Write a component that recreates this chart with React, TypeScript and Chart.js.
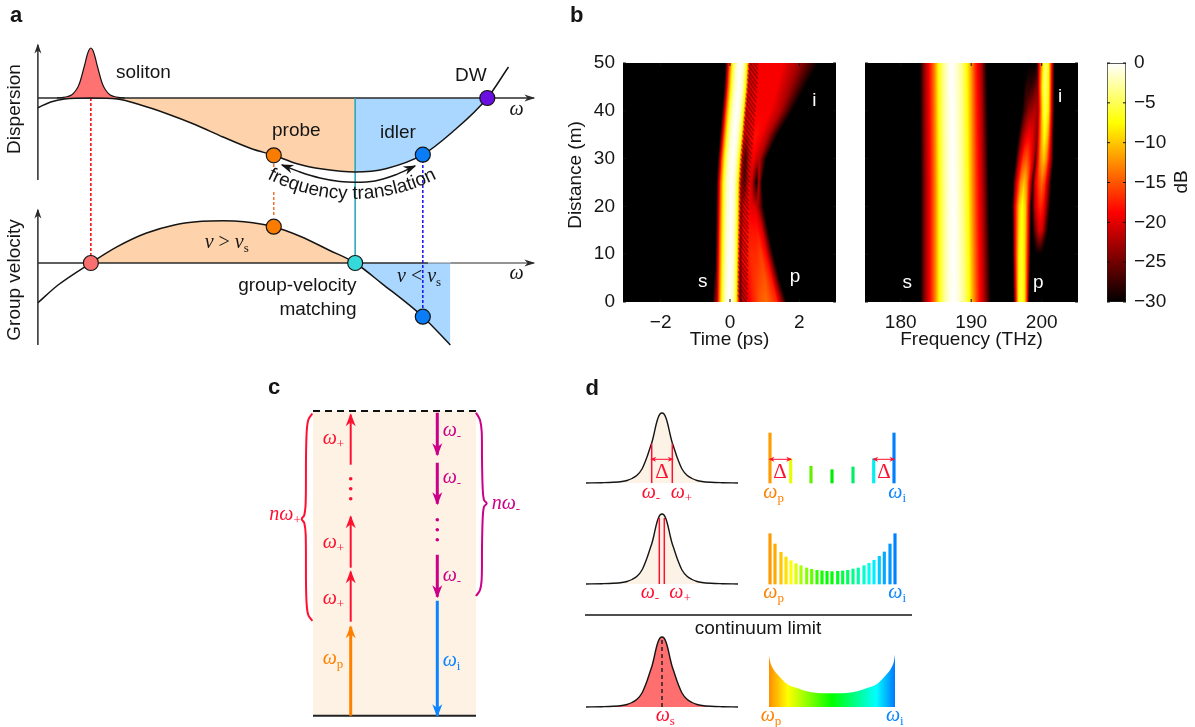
import { useEffect, useRef } from 'react';
import { Chart, registerables } from 'chart.js';
Chart.register(...registerables);

// ---------- panel a: dispersion and group velocity ----------
const omegaCurve = [0, 12, 25, 50, 75, 95, 122, 149, 175, 202, 223, 245, 269, 300, 329, 364, 392, 425, 445];
const dispersion = [-9.7, -4, -1, 0, -1, -6.3, -15.7, -26.7, -39, -50.7, -57.3, -65.7, -71, -74, -70.7, -56.7, -34, 0, 31];
const solitonOmega = [18, 24, 28, 32, 35, 38, 40, 42, 44, 46, 48, 50, 52, 54, 56, 58, 60, 62, 65, 68, 72, 76, 82];
const solitonHeight = [0.1, 0.6, 1.5, 3.3, 6.5, 11.5, 17, 24.5, 32.5, 41, 47.5, 50, 47.5, 41, 32.5, 24.5, 17, 11.5, 6.5, 3.3, 1.5, 0.6, 0.1];
const omegaGroup = [0, 19, 50, 75, 102, 129, 155, 175, 195, 223, 249, 275, 300, 325, 364, 390];
const groupVelocity = [-39.7, -22, 0, 16.3, 29.7, 38, 41.7, 42.3, 41.3, 36.3, 26.3, 13, 0, -20.3, -53.7, -82];
const translationOmega = [230.8, 247.8, 266.7, 285.6, 299.8, 318.7, 337.7, 356.6];
const translationLevel = [-67, -74, -80, -83.5, -84.3, -83, -77, -68];

// ---------- panel b: spectrogram knots, [coordinate, dB] ----------
const timeTicks = [-2, 0, 2];
const freqTicks = [180, 190, 200];
const distanceTicks = [0, 10, 20, 30, 40, 50];
const dbTicks = [0, -5, -10, -15, -20, -25, -30];
const distanceRows = [0, 5, 10, 15, 20, 25, 30, 35, 40, 45, 50];
const solitonCentre = [-0.02, -0.01, 0, 0.01, 0.02, 0.03, 0.07, 0.13, 0.19, 0.25, 0.29];
const solitonProfile = [[-0.42, -30], [-0.37, -24], [-0.31, -16], [-0.25, -10], [-0.18, -4.5], [-0.11, -1.5], [0, 0], [0.1, -1.5], [0.16, -4.5], [0.21, -9], [0.26, -16], [0.31, -25], [0.35, -30]];
const timeRadiation = [
  [[0.26, -30], [0.34, -22], [0.7, -17], [0.85, -15], [1.05, -14], [1.35, -17], [1.63, -30]],
  [[0.26, -28], [0.36, -20], [0.65, -17], [0.8, -16], [1.0, -15], [1.2, -18], [1.42, -30]],
  [[0.26, -26], [0.36, -19], [0.6, -17], [0.75, -17], [0.9, -16], [1.05, -19], [1.25, -30]],
  [[0.28, -25], [0.38, -19], [0.55, -18], [0.68, -18], [0.8, -18], [0.92, -20], [1.1, -30]],
  [[0.3, -24], [0.4, -20], [0.52, -19], [0.62, -20], [0.72, -20], [0.82, -23], [0.97, -30]],
  [[0.32, -23], [0.42, -26], [0.55, -19], [0.65, -22], [0.77, -30], [0.83, -22], [0.92, -30]],
  [[0.36, -22], [0.44, -27], [0.55, -20], [0.68, -19], [0.78, -21], [0.86, -22], [1.05, -30]],
  [[0.4, -20], [0.48, -21], [0.6, -19], [0.75, -18], [0.9, -19], [1.1, -22], [1.38, -30]],
  [[0.44, -20], [0.55, -20], [0.7, -19], [0.9, -19], [1.15, -19], [1.45, -22], [1.8, -30]],
  [[0.5, -20], [0.6, -20], [0.8, -19], [1.0, -19], [1.35, -19], [1.75, -23], [2.17, -30]],
  [[0.52, -22], [0.65, -20], [0.85, -19], [1.1, -19], [1.5, -19], [2.0, -23], [2.55, -30]],
];
const wispRows = [0, 8];
const timeWisp = [[[-0.5, -30], [-0.42, -24], [-0.34, -22]], [[-0.46, -30], [-0.43, -30], [-0.38, -30]]];
// distance at which each dark interference fringe meets the soliton's right flank
const fringeDistance = [0.8, 1.9, 2.8, 3.7, 4.8, 5.7, 6.8, 7.7, 8.6, 9.7, 10.6, 11.7, 12.6, 13.5, 14.6, 15.5, 16.6, 17.5, 18.4, 19.5, 20.4, 21.5, 22.4, 23.3, 24.4, 25.3, 26.4, 27.3, 28.2, 29.3, 30.2, 31.3, 32.2, 33.1, 34.2, 35.1, 36.2, 37.1, 38, 39.1, 40, 41.1, 42, 42.9, 44, 44.9, 46, 46.9, 47.8, 48.9, 49.8, 50.8, 51.7];
const freqSolitonRows = [0, 25, 50];
const freqSoliton = [
  [[182.8, -30], [183.4, -24], [184.1, -19], [184.9, -13], [185.4, -8], [186.1, -3.5], [186.8, -1], [187.5, 0], [188.2, -1], [189, -3.5], [189.7, -7], [190.2, -11], [191, -17], [191.8, -22], [192.8, -30]],
  [[182.8, -30], [183.4, -24], [184.1, -19], [184.9, -13], [185.4, -8], [186.1, -3.5], [186.8, -1], [187.4, 0], [188, -1], [188.8, -3.5], [189.5, -7], [190, -11], [190.8, -17], [191.6, -22], [192.5, -30]],
  [[182.7, -30], [183.3, -24], [184, -19], [184.8, -13], [185.3, -8], [186, -3.5], [186.7, -1], [187.2, 0], [187.8, -1], [188.7, -3.5], [189.3, -7], [189.9, -11], [190.6, -17], [191.4, -22], [192.2, -30]],
];
const freqProbeRows = [0, 10, 20, 25, 30, 35, 40, 45, 50];
const freqProbe = [
  [[196, -30], [196.3, -20], [196.7, -8], [197.1, -5.5], [197.6, -9], [198, -20], [198.2, -30]],
  [[195.9, -30], [196.2, -20], [196.7, -9], [197.1, -6], [197.6, -9], [198.1, -20], [198.4, -30]],
  [[195.8, -30], [196.2, -20], [196.8, -10], [197.2, -7], [197.7, -10], [198.2, -20], [198.5, -30]],
  [[195.9, -30], [196.4, -21], [197, -13], [197.5, -10], [197.9, -13], [198.4, -21], [198.8, -30]],
  [[196.3, -30], [196.8, -22], [197.4, -16], [197.9, -15], [198.4, -18], [198.9, -22], [199.3, -30]],
  [[196.7, -30], [197.2, -24], [197.8, -20], [198.2, -19], [198.7, -20], [199.2, -23], [199.6, -26]],
  [[197.2, -30], [197.6, -27], [198.1, -24], [198.5, -23], [199, -22], [199.4, -23], [199.8, -26]],
  [[197.5, -30], [197.8, -28], [198.4, -28], [198.8, -27], [199.2, -25], [199.6, -24], [199.9, -26]],
  [[198, -30], [198.4, -30], [198.8, -30], [199.2, -30], [199.5, -29], [199.7, -28], [199.9, -30]],
];
const freqIdlerRows = [10, 15, 20, 25, 30, 35, 40, 45, 50];
const freqIdler = [
  [[199, -30], [199.2, -30], [199.4, -30], [199.6, -30], [199.8, -30], [200, -30], [200.2, -30]],
  [[198.7, -30], [199, -26], [199.4, -22], [199.7, -20], [200.1, -21], [200.5, -26], [200.9, -30]],
  [[198.6, -30], [199, -22], [199.5, -18], [199.9, -17], [200.3, -19], [200.8, -25], [201.2, -30]],
  [[198.6, -30], [199.1, -20], [199.6, -16], [200, -14], [200.4, -16], [201, -24], [201.4, -30]],
  [[199, -30], [199.4, -20], [199.8, -13], [200.3, -10], [200.7, -13], [201.2, -21], [201.7, -30]],
  [[199.2, -30], [199.5, -20], [200, -11], [200.4, -7], [200.9, -11], [201.3, -20], [201.7, -30]],
  [[199.2, -30], [199.6, -20], [200.1, -9], [200.5, -5], [201, -9], [201.4, -20], [201.8, -30]],
  [[199.2, -30], [199.6, -19], [200.1, -8], [200.5, -4], [201, -8], [201.4, -19], [201.8, -30]],
  [[199.3, -30], [199.7, -18], [200.2, -8], [200.6, -4], [201, -8], [201.4, -18], [201.8, -30]],
];

// ---------- panel c: energy ladder ----------
const ladderUp = [[0, 89], [94, 144], [148, 199], [251, 301]];
const ladderDown = [[303, 261], [253, 212], [161, 119]];
const idlerStep = [115, 0];
const upDots = [237, 227, 217];
const downDots = [196, 186, 176];
const leftBraceX = [-0.7, -4.7, -6.3, -7, -7.3, -8.7, -11.3, -8.7, -7.3, -7, -6.3, -4.7, -0.7];
const leftBraceE = [302.3, 295.7, 284, 257.3, 214, 200.7, 196.7, 192.7, 180.7, 134, 110.7, 100.7, 94.7];
const rightBraceX = [163, 167, 168.7, 169, 169.7, 171, 173.7, 171, 169.7, 169, 168.7, 167, 163];
const rightBraceE = [303, 295.7, 284, 257.3, 227.3, 215.7, 212.3, 209, 197.3, 167.3, 137.3, 125.7, 119.7];

// ---------- panel d: spectra ----------
const pulseDetuning = [-76, -60, -49, -40, -35, -30, -25, -20, -15, -12, -10, -8, -6, -4, -2, 0, 2, 4, 6, 8, 10, 12, 15, 20, 25, 30, 35, 40, 49, 60, 76];
const pulseLevel = [0, 0.3, 0.7, 1.5, 2.5, 4.5, 7.7, 14, 26, 35, 41, 49, 58, 65, 69, 70, 69, 65, 58, 49, 41, 35, 26, 14, 7.7, 4.5, 2.5, 1.5, 0.7, 0.3, 0];
const sparseComb = [-62, -41.3, -21, 0, 21, 41.7, 62];
const sparseLevel = [50, 24.3, 16.7, 13.3, 16, 24.3, 50];
const sparseColors = ['#FF9A00', '#E4FF00', '#66EE00', '#00EE00', '#00EE66', '#00F0F0', '#007FFF'];
const denseComb = [-62, -57, -51, -46, -41, -36, -31, -25.3, -20.3, -15, -10, -5, 0, 5.7, 10.7, 15.7, 21, 26.3, 32, 37, 42, 47.3, 52.3, 58, 63];
const denseLevel = [50.3, 40, 31.7, 27, 23.3, 20.3, 18.3, 16, 14.7, 13.7, 13, 12.7, 12.3, 12.7, 13, 13.7, 15, 16, 18.3, 20.7, 23.7, 27.7, 32, 40, 50.3];
const denseColors = ['#FF9900', '#FFAA00', '#FFC400', '#FFE000', '#FFFF00', '#DDFF00', '#AAFF00', '#88FF00', '#66FF00', '#33FF00', '#11FF00', '#00FF00', '#00FF00', '#00FF22', '#00FF44', '#00FF66', '#00FF88', '#00FFAA', '#00FFCC', '#00FFEE', '#00EEFF', '#00CCFF', '#00AAFF', '#0099FF', '#0080FF'];
const envelopeDetuning = [-63, -62, -58.7, -53.7, -45, -35, -22, 0, 22, 35, 45, 53.7, 58.7, 62, 63];
const envelopeLevel = [52.3, 46, 38, 31.7, 23, 19, 15, 13.7, 15, 19, 23, 31.7, 38, 46, 52.3];

// ---------- styles ----------
const SANS = '19px "Liberation Sans"';
const BOLD = 'bold 22px "Liberation Sans"';
const ITAL = 'italic 20px "Liberation Serif"';
const ROMAN = '20px "Liberation Serif"';
const SUB = '13px "Liberation Serif"';
const INK = '#151515';
const RED = '#FF1030';
const ORANGE = '#FF8000';
const BLUE = '#0A84FF';
const MAGENTA = '#CC0088';

type Part = { t: string; f: string; dy?: number };
const T = (x: number, y: number, t: string, o: any = {}) => ({ x, y, parts: [{ t, f: o.f || SANS }], ...o });
const W = (x: number, y: number, sub: string, color: string, prefix = '') => ({
  x, y, color,
  parts: [...(prefix ? [{ t: prefix, f: ITAL }] : []), { t: 'ω', f: ITAL }, { t: sub, f: SUB, dy: 4 }] as Part[],
});
const zip = (x: number[], y: number[]) => x.map((v, i) => ({ x: v, y: y[i] }));
const rev = (a: any[]) => a.slice().reverse();

const line = (x: number[], y: number[], color: string, o: any = {}) => ({
  type: 'line', data: zip(x, y), borderColor: color, borderWidth: 1.5, pointRadius: 0, tension: 0, fill: false, clip: false, ...o,
});
const curve = (x: number[], y: number[], color: string, o: any = {}) => line(x, y, color, { cubicInterpolationMode: 'monotone', ...o });
const area = (x: number[], y: number[], color: string, o: any = {}) =>
  curve(x, y, 'transparent', { borderWidth: 0, backgroundColor: color, fill: { value: 0 }, ...o });
const dots = (x: number[], y: number[], color: string | string[], r: number, o: any = {}) => ({
  type: 'line', data: zip(x, y), showLine: false, pointRadius: r, pointBackgroundColor: color, pointBorderColor: INK, pointBorderWidth: 1.2, clip: false, ...o,
});

// ---------- heat map helpers ----------
const hot = (v: number) => {
  const f = Math.min(1, Math.max(0, (v + 30) / 30));
  const c = (a: number, b: number) => Math.round(255 * Math.min(1, Math.max(0, (f - a) / b)));
  return [c(0, 0.375), c(0.375, 0.375), c(0.75, 0.25)];
};
const rowAt = (layer: any, z: number) => {
  const zs = layer.z;
  if (z <= zs[0]) return layer.rows[0];
  if (z >= zs[zs.length - 1]) return layer.rows[zs.length - 1];
  let i = 0;
  while (zs[i + 1] < z) i++;
  const k = (z - zs[i]) / (zs[i + 1] - zs[i]);
  return layer.rows[i].map((p: number[], j: number) => {
    const q = layer.rows[i + 1][j];
    return [p[0] + (q[0] - p[0]) * k, p[1] + (q[1] - p[1]) * k];
  });
};
const valueAt = (row: number[][], t: number) => {
  if (t <= row[0][0] || t >= row[row.length - 1][0]) return -30;
  let i = 0;
  while (row[i + 1][0] < t) i++;
  const k = (t - row[i][0]) / (row[i + 1][0] - row[i][0]);
  return row[i][1] + (row[i + 1][1] - row[i][1]) * k;
};
const knotsOf = (layers: any[]) =>
  layers.flatMap((l) => l.rows.flatMap((r: number[][], i: number) => r.map((p) => ({ x: p[0], y: l.z[i], v: p[1] }))));
const centreAt = (z: number) => {
  let i = 0;
  while (i < distanceRows.length - 2 && distanceRows[i + 1] < z) i++;
  const k = Math.min(1, (z - distanceRows[i]) / (distanceRows[i + 1] - distanceRows[i]));
  return solitonCentre[i] + (solitonCentre[i + 1] - solitonCentre[i]) * k;
};

// ---------- one plugin per chart: heat map, arrow heads, text ----------
const ink = (cfg: any) => ({
  id: 'ink',
  beforeDatasetsDraw(chart: any) {
    if (!cfg.heat) return;
    const { ctx, chartArea: a, scales } = chart;
    const w = Math.round(a.right - a.left);
    const h = Math.round(a.bottom - a.top);
    const off = document.createElement('canvas');
    off.width = w;
    off.height = h;
    const oc = off.getContext('2d')!;
    const img = oc.createImageData(w, h);
    for (let j = 0; j < h; j++) {
      const z = scales.y.getValueForPixel(a.top + j + 0.5);
      const rows = cfg.heat.map((l: any) => rowAt(l, z));
      for (let i = 0; i < w; i++) {
        const t = scales.x.getValueForPixel(a.left + i + 0.5);
        let v = -30;
        for (const r of rows) v = Math.max(v, valueAt(r, t));
        const c = hot(v);
        const n = (j * w + i) * 4;
        img.data[n] = c[0]; img.data[n + 1] = c[1]; img.data[n + 2] = c[2]; img.data[n + 3] = 255;
      }
    }
    oc.putImageData(img, 0, 0);
    ctx.drawImage(off, a.left, a.top);
  },
  afterDatasetsDraw(chart: any) {
    const { ctx, chartArea: a, scales } = chart;
    ctx.save();
    // inward tick marks of the image axes
    if (cfg.innerTicks) {
      ctx.strokeStyle = '#111';
      ctx.lineWidth = 1;
      ctx.beginPath();
      (cfg.innerTicks.x || []).forEach((v: number) => {
        const p = scales.x.getPixelForValue(v);
        ctx.moveTo(p, a.top); ctx.lineTo(p, a.top + 3);
        ctx.moveTo(p, a.bottom); ctx.lineTo(p, a.bottom - 3);
      });
      (cfg.innerTicks.y || []).forEach((v: number) => {
        const p = scales.y.getPixelForValue(v);
        ctx.moveTo(a.left, p); ctx.lineTo(a.left + 3, p);
        ctx.moveTo(a.right, p); ctx.lineTo(a.right - 3, p);
      });
      ctx.stroke();
    }
    // arrow heads on datasets
    chart.data.datasets.forEach((ds: any, i: number) => {
      if (!ds.arrow) return;
      const pts = chart.getDatasetMeta(i).data;
      const head = (p: any, q: any) => {
        const dx = p.x - q.x, dy = p.y - q.y, n = Math.hypot(dx, dy) || 1;
        const ux = dx / n, uy = dy / n;
        const [L, Wd] = ds.arrow.size;
        const tx = p.x + ux * 1.5, ty = p.y + uy * 1.5;
        ctx.fillStyle = ds.arrow.color || ds.borderColor;
        ctx.beginPath();
        ctx.moveTo(tx, ty);
        ctx.lineTo(tx - ux * L - uy * Wd / 2, ty - uy * L + ux * Wd / 2);
        ctx.lineTo(tx - ux * L * 0.7, ty - uy * L * 0.7);
        ctx.lineTo(tx - ux * L + uy * Wd / 2, ty - uy * L - ux * Wd / 2);
        ctx.closePath();
        ctx.fill();
      };
      if (ds.arrow.end) head(pts[pts.length - 1], pts[pts.length - 2]);
      if (ds.arrow.start) head(pts[0], pts[1]);
    });
    // text
    ctx.textBaseline = 'alphabetic';
    ctx.textAlign = 'left';
    (cfg.texts || []).forEach((s: any) => {
      ctx.save();
      ctx.fillStyle = s.color || INK;
      ctx.translate(s.x - cfg.left, s.y - cfg.top);
      if (s.rot) ctx.rotate(s.rot);
      let total = 0;
      s.parts.forEach((p: Part) => { ctx.font = p.f; total += ctx.measureText(p.t).width; });
      let cx = s.align === 'right' ? -total : s.align === 'center' ? -total / 2 : 0;
      s.parts.forEach((p: Part) => {
        ctx.font = p.f;
        ctx.fillText(p.t, cx, p.dy || 0);
        cx += ctx.measureText(p.t).width;
      });
      ctx.restore();
    });
    // text on an arc
    if (cfg.arc) {
      const { cx, cy, r, text, font } = cfg.arc;
      ctx.font = font;
      ctx.fillStyle = INK;
      const total = ctx.measureText(text).width;
      let run = -total / 2;
      for (let i = 0; i < text.length; i++) {
        const cw = ctx.measureText(text[i]).width;
        const th = (run + cw / 2) / r;
        ctx.save();
        ctx.translate(cx + r * Math.sin(th) - cfg.left, cy + r * Math.cos(th) - cfg.top);
        ctx.rotate(-th);
        ctx.fillText(text[i], -cw / 2, 0);
        ctx.restore();
        run += cw;
      }
    }
    ctx.restore();
  },
});

const base = (scales: any, padding: any = 0) => ({
  responsive: false,
  animation: false as const,
  events: [] as any[],
  layout: { padding, autoPadding: false },
  plugins: { legend: { display: false }, tooltip: { enabled: false } },
  scales,
});
const hidden = (min: number, max: number, extra: any = {}) => ({ type: 'linear', display: false, offset: false, min, max, ...extra });
const fmt = (v: number) => String(v).replace('-', '−');
const tickFont = { family: 'Liberation Sans', size: 19 };

// ---------- panel configs ----------
const AX = '#2a2a2a';
const panelA = () => {
  const box = { left: 0, top: 0, width: 550, height: 360 };
  const v = { yAxisID: 'v' };
  const axes = [
    line([-0.1, -0.1], [-82, 53], AX, { arrow: { end: true, size: [10, 7] } }),
    line([-0.1, -0.1], [-247, -112], AX, { arrow: { end: true, size: [10, 7] } }),
    line([0, 469], [0, 0], AX, { arrow: { end: true, size: [11, 7] } }),
    line([0, 369], [-165, -165], AX),
    line([369, 390], [-165, -165], AX, { borderWidth: 0.6 }),
    line([390, 469], [-165, -165], AX, { arrow: { end: true, size: [11, 7] }, borderWidth: 1.2 }),
  ];
  const datasets = [
    area(omegaCurve.slice(4, 14), dispersion.slice(4, 14), '#FED2AA'),
    area(omegaCurve.slice(13, 18), dispersion.slice(13, 18), '#A9D7FF'),
    area(omegaGroup.slice(2, 13), groupVelocity.slice(2, 13), '#FED2AA', v),
    area(omegaGroup.slice(12), groupVelocity.slice(12), '#A9D7FF', v),
    ...axes,
    area(solitonOmega, solitonHeight, '#FF7272', { borderWidth: 1.2, borderColor: INK }),
    line([300, 300], [0, -165], '#1FA5B5', { borderWidth: 1.5 }),
    line([50, 50], [0, -157], '#FF0000', { borderDash: [3, 2] }),
    line([223, 223], [-66, -73], '#F07030', { borderDash: [3, 2] }),
    line([223, 223], [-94, -119], '#F07030', { borderDash: [3, 2] }),
    line([364, 364], [-57, -210], '#1010F0', { borderDash: [3, 2] }),
    curve(omegaCurve, dispersion, INK),
    curve(omegaGroup, groupVelocity, INK, v),
    curve(translationOmega, translationLevel, INK, { arrow: { start: true, end: true, size: [13, 9], color: INK } }),
    dots([50], [0], '#F96E6E', 7.5, v),
    dots([223], [36.3], '#F97C00', 7.5, v),
    dots([300], [0], '#35D9D9', 7.5, v),
    dots([364], [-53.7], '#0A7CF5', 7.5, v),
    dots([223, 364], [-57.3, -56.7], ['#F97C00', '#0A7CF5'], 7.5),
    dots([425], [0], '#6A0FE0', 7.5),
  ];
  const vs = (x: number, y: number, sign: string) => ({
    x, y, parts: [
      { t: 'v', f: ITAL }, { t: ' ' + sign + ' ', f: ROMAN }, { t: 'v', f: ITAL }, { t: 's', f: SUB, dy: 4 },
    ],
  });
  const texts = [
    T(10, 22, 'a', { f: BOLD }),
    T(116, 78, 'soliton'), T(272, 136, 'probe'), T(380, 137.7, 'idler'), T(455, 81, 'DW'),
    { x: 509.5, y: 115, parts: [{ t: 'ω', f: ITAL }] },
    { x: 509.5, y: 279, parts: [{ t: 'ω', f: ITAL }] },
    vs(204.7, 247.7, '>'), vs(397, 281.7, '<'),
    T(356.5, 291, 'group-velocity', { align: 'right' }),
    T(356.5, 315, 'matching', { align: 'right' }),
    T(20, 109, 'Dispersion', { rot: -Math.PI / 2, align: 'center' }),
    T(20, 280, 'Group velocity', { rot: -Math.PI / 2, align: 'center' }),
  ];
  return {
    box,
    config: {
      type: 'line',
      data: { datasets: rev(datasets) },
      options: base({
        x: hidden(-35.94, 484.3),
        y: hidden(-262, 98),
        v: hidden(-97, 263),
      }),
      plugins: [ink({ left: 0, top: 0, texts, arc: { cx: 352, cy: 13, r: 186, text: 'frequency translation', font: SANS } })],
    },
  };
};

const heatAxes = (x: any, y: any) => ({
  x: {
    type: 'linear', grid: { display: false, drawTicks: false }, border: { display: false },
    ticks: { font: tickFont, color: INK, padding: 9, callback: fmt, maxRotation: 0 },
    afterBuildTicks: (s: any) => { s.ticks = x.ticks.map((value: number) => ({ value })); },
    afterFit: (s: any) => { s.height = 50; },
    title: { display: true, text: x.title, font: tickFont, color: INK, padding: { top: 0, bottom: 1 } },
    min: x.min, max: x.max,
  },
  y,
});

const panelB1 = () => {
  const box = { left: 560, top: 0, width: 280, height: 360 };
  const layers = [
    { z: distanceRows, rows: distanceRows.map((_, i) => solitonProfile.map((p) => [p[0] + solitonCentre[i], p[1]])) },
    { z: distanceRows, rows: timeRadiation },
    { z: wispRows, rows: timeWisp },
  ];
  const fringeX: any[] = [];
  fringeDistance.forEach((z) => {
    const c = centreAt(z);
    fringeX.push({ x: c + 0.24, y: z + 0.7 }, { x: c + 0.52, y: z - 2.2 }, { x: null, y: null });
  });
  return {
    box,
    config: {
      type: 'scatter',
      data: {
        datasets: [
          { type: 'line', data: fringeX, pointRadius: 0, borderColor: 'rgba(35,0,0,0.42)', borderWidth: 1.5, spanGaps: false, fill: false, tension: 0 },
          { data: knotsOf(layers), pointRadius: 0, showLine: false },
        ],
      },
      options: base(
        heatAxes(
          { ticks: timeTicks, title: 'Time (ps)', min: -3.084, max: 3.055 },
          {
            type: 'linear', min: 0, max: 50, grid: { display: false, drawTicks: false }, border: { display: false },
            ticks: { font: tickFont, color: INK, padding: 8 },
            afterBuildTicks: (s: any) => { s.ticks = distanceTicks.map((value) => ({ value })); },
            afterFit: (s: any) => { s.width = 63; s.paddingTop = 0; s.paddingBottom = 0; },
          },
        ),
        { top: 63, bottom: 8, right: 4, left: 0 },
      ),
      plugins: [ink({
        left: box.left, top: box.top, heat: layers,
        innerTicks: { x: timeTicks, y: distanceTicks },
        texts: [
          T(570, 22, 'b', { f: BOLD }),
          T(581, 175, 'Distance (m)', { rot: -Math.PI / 2, align: 'center' }),
          T(702.7, 287, 's', { color: '#fff', align: 'center' }),
          T(795, 281.7, 'p', { color: '#fff', align: 'center' }),
          T(814.3, 106, 'i', { color: '#fff', align: 'center' }),
        ],
      })],
    },
  };
};

const panelB2 = () => {
  const box = { left: 850, top: 0, width: 240, height: 360 };
  const layers = [
    { z: freqSolitonRows, rows: freqSoliton },
    { z: freqProbeRows, rows: freqProbe },
    { z: freqIdlerRows, rows: freqIdler },
  ];
  return {
    box,
    config: {
      type: 'scatter',
      data: { datasets: [{ data: knotsOf(layers), pointRadius: 0, showLine: false }] },
      options: base(
        heatAxes(
          { ticks: freqTicks, title: 'Frequency (THz)', min: 174.94, max: 205.15 },
          { type: 'linear', display: false, min: 0, max: 50 },
        ),
        { top: 63, bottom: 8, left: 15, right: 12 },
      ),
      plugins: [ink({
        left: box.left, top: box.top, heat: layers,
        innerTicks: { x: freqTicks, y: distanceTicks },
        texts: [
          T(907.3, 288.3, 's', { color: '#fff', align: 'center' }),
          T(1038.3, 288, 'p', { color: '#fff', align: 'center' }),
          T(1060, 101.7, 'i', { color: '#fff', align: 'center' }),
        ],
      })],
    },
  };
};

const panelBar = () => {
  const box = { left: 1095, top: 50, width: 100, height: 260 };
  return {
    box,
    config: {
      type: 'bar',
      data: {
        labels: ['dB'],
        datasets: [{
          data: [[-30, 0]],
          barPercentage: 1,
          categoryPercentage: 1,
          borderColor: '#222',
          borderWidth: 1,
          borderSkipped: false,
          backgroundColor: (c: any) => {
            const g = c.chart.ctx.createLinearGradient(0, 252, 0, 13);
            g.addColorStop(0, '#000000');
            g.addColorStop(0.375, '#FF0000');
            g.addColorStop(0.75, '#FFFF00');
            g.addColorStop(1, '#FFFFFF');
            return g;
          },
        }],
      },
      options: base({
        x: { display: false, grid: { display: false } },
        y: {
          position: 'right', min: -30, max: 0, grid: { display: false, drawTicks: false }, border: { display: false },
          ticks: { font: tickFont, color: INK, padding: 8, callback: fmt },
          afterBuildTicks: (s: any) => { s.ticks = dbTicks.map((value) => ({ value })); },
          afterFit: (s: any) => { s.width = 69; s.paddingTop = 0; s.paddingBottom = 0; },
        },
      }, { top: 13, bottom: 8, left: 12, right: 0 }),
      plugins: [ink({
        left: box.left, top: box.top,
        innerTicks: { y: dbTicks },
        texts: [T(1187, 182, 'dB', { rot: -Math.PI / 2, align: 'center' })],
      })],
    },
  };
};

const panelC = () => {
  const box = { left: 250, top: 375, width: 300, height: 350 };
  const head = { end: true, size: [13, 10] };
  const datasets = [
    line([0, 163], [0, 0], 'transparent', { borderWidth: 0, backgroundColor: '#FDF2E4', fill: { value: 304.7 } }),
    line([0, 163], [304.7, 304.7], '#111', { borderWidth: 2, borderDash: [7, 5] }),
    line([0, 163], [0, 0], '#222', { borderWidth: 2 }),
    ...ladderUp.map((s, i) => line([37.7, 37.7], s, i === 0 ? ORANGE : RED, { borderWidth: i === 0 ? 3 : 2, arrow: head })),
    ...ladderDown.map((s) => line([124.3, 124.3], s, MAGENTA, { borderWidth: 3, arrow: head })),
    line([124.3, 124.3], idlerStep, BLUE, { borderWidth: 3, arrow: head }),
    dots(upDots.map(() => 37.7), upDots, RED, 1.8, { pointBorderWidth: 0 }),
    dots(downDots.map(() => 124.3), downDots, MAGENTA, 1.8, { pointBorderWidth: 0 }),
    line(leftBraceX, leftBraceE, RED, { borderWidth: 2, tension: 0.35 }),
    line(rightBraceX, rightBraceE, MAGENTA, { borderWidth: 2, tension: 0.35 }),
  ];
  const e = (v: number) => 715.7 - v;
  const texts = [
    T(268, 394, 'c', { f: BOLD }),
    W(322.7, e(271.7), '+', RED), W(322.7, e(168), '+', RED), W(322.7, e(111.3), '+', RED),
    W(322.7, e(52), 'p', ORANGE),
    W(442.7, e(280), '-', MAGENTA), W(442.7, e(233), '-', MAGENTA), W(442.7, e(135), '-', MAGENTA),
    W(442.7, e(50), 'i', BLUE),
    W(269.3, e(195.7), '+', RED, 'n'),
    W(491.7, e(207), '-', MAGENTA, 'n'),
  ];
  return {
    box,
    config: {
      type: 'line',
      data: { datasets: rev(datasets) },
      options: base({ x: hidden(-63, 237), y: hidden(-9.3, 340.7) }),
      plugins: [ink({ left: box.left, top: box.top, texts })],
    },
  };
};

const panelD = () => {
  const box = { left: 570, top: 375, width: 350, height: 352 };
  const L = (y: string) => ({ xAxisID: 'xL', yAxisID: y });
  const R = (y: string) => ({ xAxisID: 'xR', yAxisID: y });
  const smallHead = { start: true, end: true, size: [6, 5] };
  const bars = (x: number[], y: number[], c: string[], axis: string) => ({
    type: 'bar', data: zip(x, y), backgroundColor: c, barThickness: 2.5, grouped: false, borderWidth: 0, ...R(axis),
  });
  const beige = '#FCF2E5';
  const datasets = [
    area(pulseDetuning, pulseLevel, beige, { ...L('r1'), borderWidth: 1.4, borderColor: INK }),
    line([-10.3, -10.3], [0, 39.3], RED, L('r1')),
    line([10.3, 10.3], [0, 39.3], RED, L('r1')),
    line([-10.3, 10.3], [23.7, 23.7], RED, { ...L('r1'), borderWidth: 1, arrow: smallHead }),
    area(pulseDetuning, pulseLevel, beige, { ...L('r2'), borderWidth: 1.4, borderColor: INK }),
    line([-2.7, -2.7], [0, 66], RED, L('r2')),
    line([2.3, 2.3], [0, 66], RED, L('r2')),
    area(pulseDetuning, pulseLevel, '#FF6F6F', { ...L('r3'), borderWidth: 1.4, borderColor: INK }),
    line([0, 0], [0, 70], '#222', { ...L('r3'), borderDash: [4, 3] }),
    bars(sparseComb, sparseLevel, sparseColors, 'r1'),
    line([-62, -41.3], [23.7, 23.7], RED, { ...R('r1'), borderWidth: 1, arrow: smallHead }),
    line([41.7, 62], [23.7, 23.7], RED, { ...R('r1'), borderWidth: 1, arrow: smallHead }),
    bars(denseComb, denseLevel, denseColors, 'r2'),
    curve(envelopeDetuning, envelopeLevel, 'transparent', {
      ...R('r3'), borderWidth: 0, fill: { value: 0 },
      backgroundColor: (c: any) => {
        const g = c.chart.ctx.createLinearGradient(199, 0, 325, 0);
        g.addColorStop(0, '#FF8C00');
        g.addColorStop(0.15, '#FFFF00');
        g.addColorStop(0.5, '#00FF00');
        g.addColorStop(0.85, '#00FFFF');
        g.addColorStop(1, '#0078FF');
        return g;
      },
    }),
    line([-77, 250], [92, 92], INK, L('r3')),
  ];
  const D = (x: number) => ({ x, y: 478.3, color: RED, align: 'center', parts: [{ t: 'Δ', f: '21px "Liberation Serif"' }] });
  const texts = [
    T(585.5, 395, 'd', { f: BOLD }),
    D(662), D(780), D(884),
    W(641.7, 497.7, '-', RED), W(670.7, 497.7, '+', RED),
    W(640.7, 597.7, '-', RED), W(669.3, 597.7, '+', RED),
    W(655.7, 720.7, 's', RED),
    W(763.3, 497.7, 'p', ORANGE), W(888.3, 497.7, 'i', BLUE),
    W(763.3, 597.7, 'p', ORANGE), W(888.3, 597.7, 'i', BLUE),
    W(760.7, 720.7, 'p', ORANGE), W(886, 720.7, 'i', BLUE),
    T(758, 634.3, 'continuum limit', { align: 'center' }),
  ];
  return {
    box,
    config: {
      type: 'line',
      data: { datasets: rev(datasets) },
      options: base({
        xL: hidden(-92, 258, { axis: 'x' }),
        xR: hidden(-262, 88, { axis: 'x' }),
        r1: hidden(-244, 108, { axis: 'y' }),
        r2: hidden(-143, 209, { axis: 'y' }),
        r3: hidden(-20, 332, { axis: 'y' }),
      }),
      plugins: [ink({ left: box.left, top: box.top, texts })],
    },
  };
};

const panels = [panelA, panelB1, panelB2, panelBar, panelC, panelD];

function Panel({ make }: { make: () => any }) {
  const ref = useRef<HTMLCanvasElement>(null);
  const spec = make();
  useEffect(() => {
    const chart = new Chart(ref.current!, spec.config);
    return () => chart.destroy();
  }, []);
  const { left, top, width, height } = spec.box;
  return <canvas ref={ref} width={width} height={height} style={{ position: 'absolute', left, top, width, height }} />;
}

export default function App() {
  return (
    <div style={{ position: 'absolute', left: 0, top: 0, width: 1195, height: 727, overflow: 'hidden', background: '#fff' }}>
      {panels.map((make, i) => <Panel key={i} make={make} />)}
    </div>
  );
}
